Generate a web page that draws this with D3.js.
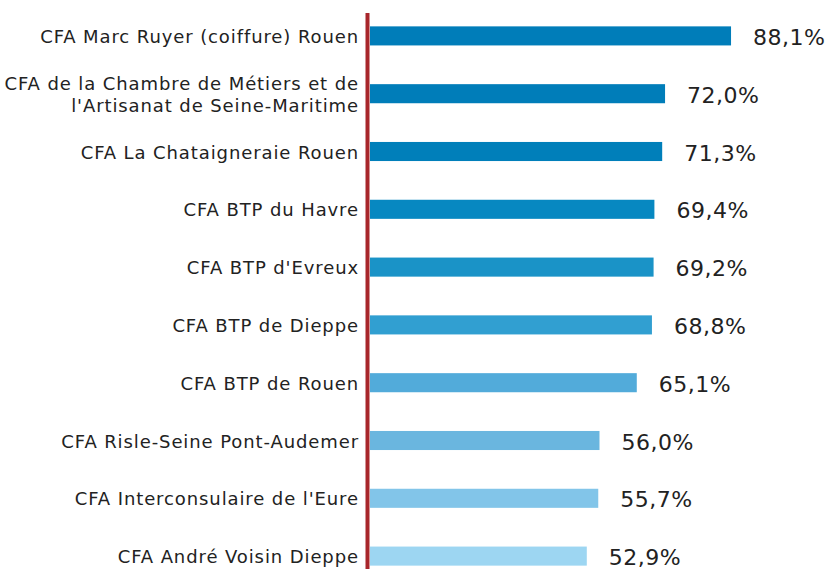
<!DOCTYPE html>
<html><head><meta charset="utf-8">
<script src="https://cdn.jsdelivr.net/npm/d3@7"></script>
<style>body{margin:0;background:#fff}svg{display:block}</style>
</head><body>
<script>
const categories = [
  "CFA Marc Ruyer (coiffure) Rouen",
  "CFA de la Chambre de Métiers et de|l'Artisanat de Seine-Maritime",
  "CFA La Chataigneraie Rouen",
  "CFA BTP du Havre",
  "CFA BTP d'Evreux",
  "CFA BTP de Dieppe",
  "CFA BTP de Rouen",
  "CFA Risle-Seine Pont-Audemer",
  "CFA Interconsulaire de l'Eure",
  "CFA André Voisin Dieppe"
];
const values = [88.1, 72.0, 71.3, 69.4, 69.2, 68.8, 65.1, 56.0, 55.7, 52.9];
const colors = ["#007db9","#007db9","#007fba","#0788c1","#1a93c7","#319fd1","#52abda","#6ab6df","#82c5e9","#9dd6f2"];

const W = 829, H = 569;
const svg = d3.select("body").append("svg").attr("width", W).attr("height", H);
const x0 = 370;
const x = d3.scaleLinear().domain([0, 100]).range([x0, x0 + 409.8]);
const y = d3.scaleBand().domain(categories).range([7, 585]).paddingInner(0.67).paddingOuter(0.335);

svg.selectAll("rect.bar").data(values).enter().append("rect")
  .attr("x", x(0))
  .attr("y", (d, i) => y(categories[i]))
  .attr("width", d => x(d) - x(0))
  .attr("height", y.bandwidth())
  .attr("fill", (d, i) => colors[i]);

svg.selectAll("text.val").data(values).enter().append("text")
  .attr("x", d => x(d) + 22)
  .attr("y", (d, i) => y(categories[i]) + y.bandwidth() / 2 + 9)
  .attr("font-family", "DejaVu Sans, Verdana, sans-serif")
  .attr("font-size", 22)
  .attr("letter-spacing", 0.5)
  .attr("fill", "#222")
  .text(d => d.toFixed(1).replace(".", ",") + "%");

const lab = svg.selectAll("text.cat").data(categories).enter().append("text")
  .attr("text-anchor", "end")
  .attr("font-family", "DejaVu Sans, Verdana, sans-serif")
  .attr("font-size", 18)
  .attr("letter-spacing", 0.9)
  .attr("fill", "#222");
lab.each(function(c) {
  const lines = c.split("|");
  const cy = y(c) + y.bandwidth() / 2;
  const lh = 22;
  lines.forEach((l, k) => {
    d3.select(this).append("tspan")
      .attr("x", 359)
      .attr("y", cy + 7 + (k - (lines.length - 1) / 2) * lh)
      .text(l);
  });
});

svg.append("line").attr("x1", 367.5).attr("x2", 367.5).attr("y1", 13).attr("y2", H)
  .attr("stroke", "#a8262b").attr("stroke-width", 4);
</script>
</body></html>
